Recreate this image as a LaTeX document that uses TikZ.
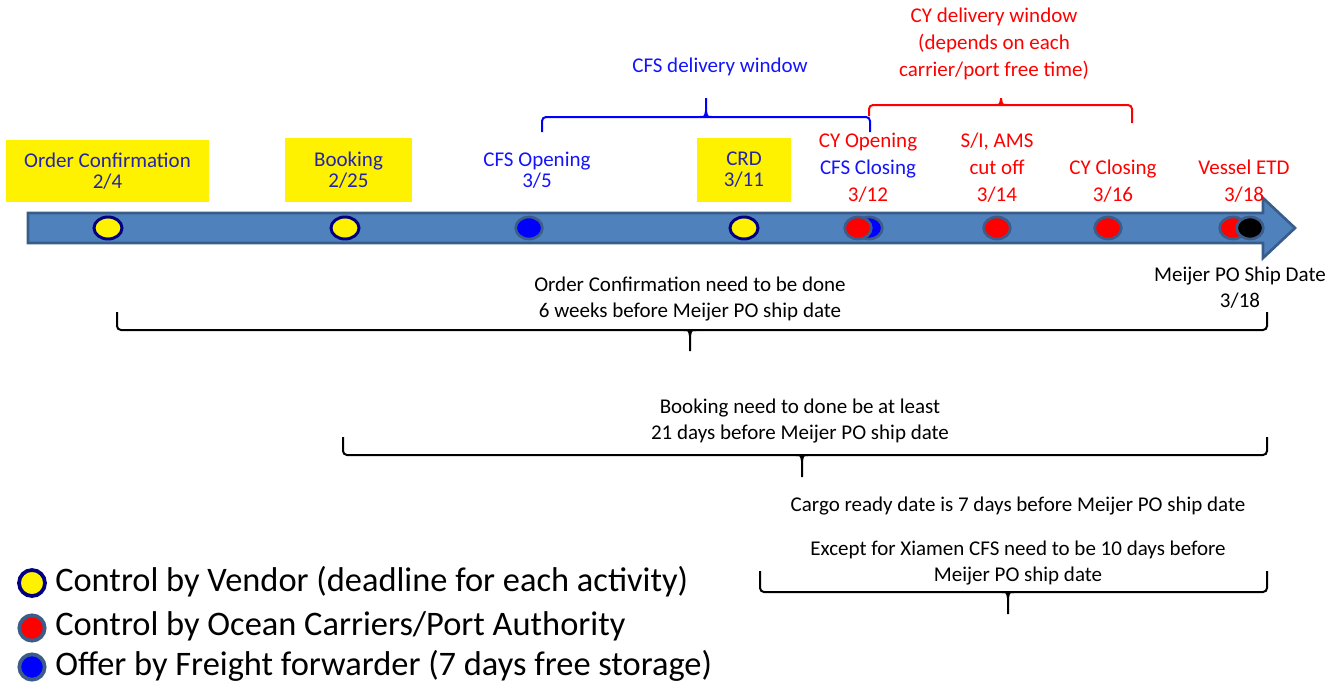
\documentclass[tikz,border=0pt]{standalone}
\usepackage{fontspec}
\setmainfont{Carlito}
\usetikzlibrary{shapes.geometric}
\definecolor{barfill}{RGB}{79,129,189}
\definecolor{bardraw}{RGB}{56,93,138}
\definecolor{navytxt}{RGB}{36,36,170}
\definecolor{bluetxt}{RGB}{20,20,250}
\definecolor{redtxt}{RGB}{255,0,0}
\definecolor{dotnavy}{RGB}{0,0,128}
\definecolor{halo}{RGB}{60,92,138}
% brace: #1 options, #2 x1, #3 x2, #4 xm, #5 ybar, #6 yend1, #7 yend2, #8 ytip, #9 shoulder direction (+1 down, -1 up)
\newcommand\mybrace[9]{%
  \draw[brace,#1] (#2,#6) -- (#2,#5) -- (#3,#5) -- (#3,#7);
  \draw[line width=1.5pt,#1] (#4-6,#5) .. controls (#4-1,#5) .. (#4,#5+#9*6) -- (#4,#8);
  \draw[line width=1.5pt,#1] (#4+6,#5) .. controls (#4+1,#5) .. (#4,#5+#9*6);
}
\begin{document}
\begin{tikzpicture}[x=0.75pt,y=-0.75pt,
 lbl/.style={align=center,inner sep=0pt,font=\fontsize{15.75}{15.75}\selectfont},
 lblw/.style={align=center,inner sep=0pt,font=\fontsize{15.75}{20.25}\selectfont},
 note/.style={align=center,inner sep=0pt,font=\fontsize{15.75}{19.5}\selectfont},
 legtext/.style={anchor=west,inner sep=0pt,font=\fontsize{25.8}{30}\selectfont},
 ybox/.style={lbl,fill=yellow,draw=none,text=navytxt},
 ydot/.style={ellipse,fill=yellow,draw=dotnavy,line width=2.2pt,minimum width=21pt,minimum height=16.5pt,inner sep=0pt},
 rdot/.style={ellipse,fill=red,draw=halo,line width=2pt,minimum width=20pt,minimum height=16.5pt,inner sep=0pt},
 bdot/.style={rdot,fill=blue},
 kdot/.style={rdot,fill=black},
 lydot/.style={circle,fill=yellow,draw=dotnavy,line width=2.8pt,minimum size=19.5pt,inner sep=0pt},
 lrdot/.style={circle,fill=red,draw=halo,line width=2.8pt,minimum size=19pt,inner sep=0pt},
 lbdot/.style={lrdot,fill=blue},
 brace/.style={line width=1.5pt,rounded corners=3pt},
]
\useasboundingbox (0,0) rectangle (1333,685);

% timeline arrow
\draw[fill=barfill,draw=bardraw,line width=2pt,line join=miter]
  (28,213) -- (1263,213) -- (1263,198) -- (1295,228) -- (1263,258) -- (1263,243) -- (28,243) -- cycle;

% yellow label boxes
\node[ybox,minimum width=152.25pt,minimum height=46.5pt] (boxoc) at (107.5,171) {Order Confirmation\\2/4};
\node[ybox,minimum width=95.25pt,minimum height=48pt] (boxbk) at (348.5,170) {Booking\\2/25};
\node[ybox,minimum width=70.5pt,minimum height=48pt] (boxcrd) at (744,170) {CRD\\3/11};

% other labels
\node[lbl,text=bluetxt] (lcfso) at (537,170.5) {CFS Opening\\3/5};
\node[lblw] (lcyo) at (868,167.5) {\textcolor{redtxt}{CY Opening}\\\textcolor{bluetxt}{CFS Closing}\\\textcolor{redtxt}{3/12}};
\node[lblw,text=redtxt] (lsi) at (997,167.5) {S/I, AMS\\cut off\\3/14};
\node[lblw,text=redtxt] (lcyc) at (1113,181) {CY Closing\\3/16};
\node[lblw,text=redtxt] (letd) at (1244,181) {Vessel ETD\\3/18};
\node[lbl,text=bluetxt] (lcfsw) at (720,67) {CFS delivery window};
\node[lblw,text=redtxt] (lcyw) at (994,44) {CY delivery window\\(depends on each\\carrier/port free time)};
\node[note] (lmeijer) at (1240,288) {Meijer PO Ship Date\\3/18};

% dots
\node[ydot] (d1) at (108,228) {};
\node[ydot] (d2) at (345,228) {};
\node[bdot] (d3) at (529,228) {};
\node[ydot] (d4) at (744,228) {};
\node[bdot] (d5b) at (869,228) {};
\node[rdot] (d5) at (858,228) {};
\node[rdot] (d6) at (997,228) {};
\node[rdot] (d7) at (1108,228) {};
\node[rdot] (d8) at (1233,228) {};
\node[kdot] (d9) at (1250,228) {};

% top braces
\mybrace{draw=blue}{542}{870}{706}{117}{132}{132}{98}{-1}
\mybrace{draw=red}{869}{1132}{1001}{105}{116}{123}{98}{-1}

% notes and bottom braces
\node[note] (n1) at (690,299) {Order Confirmation need to be done\\6 weeks before Meijer PO ship date};
\mybrace{draw=black}{117}{1267}{690}{330}{312}{312}{351}{1}

\node[note] (n2) at (800,421) {Booking need to done be at least\\21 days before Meijer PO ship date};
\mybrace{draw=black}{343}{1267}{802}{455}{437}{437}{477}{1}

\node[note] (n3) at (1018,506) {Cargo ready date is 7 days before Meijer PO ship date};
\node[note] (n4) at (1018,563) {Except for Xiamen CFS need to be 10 days before\\Meijer PO ship date};
\mybrace{draw=black}{760}{1267}{1008}{592}{571}{571}{614}{1}

% legend
\node[lydot] (k1) at (32,583) {};
\node[legtext] (t1) at (55,582) {Control by Vendor (deadline for each activity)};
\node[lrdot] (k2) at (32,628) {};
\node[legtext] (t2) at (55,626) {Control by Ocean Carriers/Port Authority};
\node[lbdot] (k3) at (32,667) {};
\node[legtext] (t3) at (55,666) {Offer by Freight forwarder (7 days free storage)};
\end{tikzpicture}
\end{document}
